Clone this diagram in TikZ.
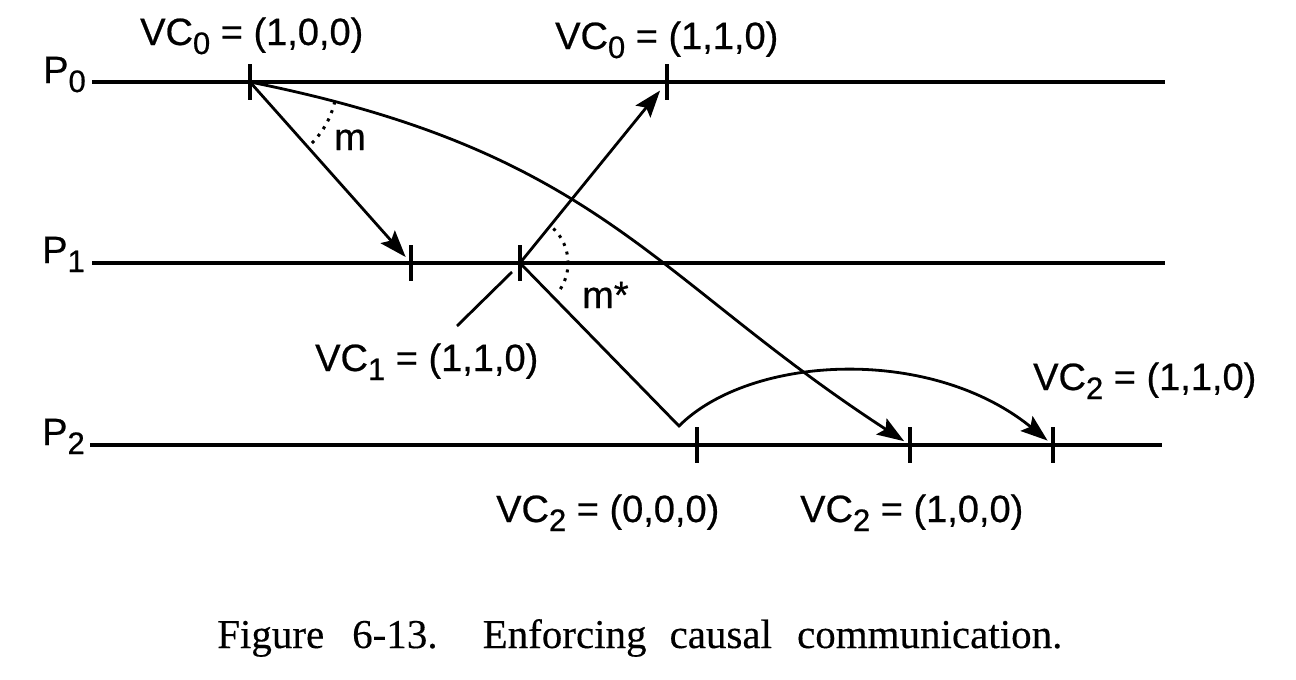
\documentclass[tikz,border=0pt]{standalone}
\usepackage{fontspec}
\setmainfont{Liberation Sans}
\newfontfamily\lblfont[FakeBold=0.6]{Liberation Sans}
\newfontfamily\capfont[FakeBold=0.3]{Liberation Serif}
\usetikzlibrary{arrows.meta}
\newcommand\vsub[1]{\raisebox{-9pt}{\fontsize{31}{31}\selectfont #1}}
\begin{document}
\begin{tikzpicture}[x=1pt,y=-1pt,
  timeline/.style={line width=3.3pt},
  tickmark/.style={line width=4.5pt},
  msg/.style={line width=2.8pt, -{Stealth[length=27pt,width=19pt,inset=5pt]}},
  plainline/.style={line width=2.8pt},
  anglemark/.style={line width=3pt, dash pattern=on 3pt off 6pt},
  lbl/.style={font=\lblfont\fontsize{38}{44}\selectfont, inner sep=0pt, anchor=base west},
  ]
\useasboundingbox (0,0) rectangle (1296,680);

% process labels
\node[lbl] (P0) at (43,83) {P\vsub{0}};
\node[lbl] (P1) at (42,263) {P\vsub{1}};
\node[lbl] (P2) at (42,445) {P\vsub{2}};

% time lines
\coordinate (l0s) at (92,82);  \coordinate (l0e) at (1165,82);
\coordinate (l1s) at (92,263); \coordinate (l1e) at (1165,263);
\coordinate (l2s) at (90,445); \coordinate (l2e) at (1162,445);
\draw[timeline] (l0s) -- (l0e);
\draw[timeline] (l1s) -- (l1e);
\draw[timeline] (l2s) -- (l2e);

% events
\coordinate (a) at (250,82);
\coordinate (b) at (667,82);
\coordinate (c) at (411,263);
\coordinate (d) at (520,263);
\coordinate (e) at (697,445);
\coordinate (f) at (910,445);
\coordinate (g) at (1053,445);
\coordinate (h) at (679,426);
\foreach \ev in {a,b,c,d,e,f,g}
  \draw[tickmark] ([yshift=18pt]\ev) -- ([yshift=-18pt]\ev);

% messages
\draw[msg, shorten >=8pt] (a) -- (c);
\draw[msg, shorten >=11pt] (d) -- (b);
\draw[msg, shorten >=7pt] (a) .. controls (600,152) and (650,276) .. (f);
\draw[msg, shorten >=7pt] (d) -- (h) .. controls (750,355) and (930,345) .. (g);

% leader line for VC1
\coordinate (k1) at (457,326);
\coordinate (k2) at (512,272);
\draw[plainline] (k1) -- (k2);

% angle marks
\draw[anglemark] plot[domain=13:48, samples=25] ({250+87*cos(\x)},{82+87*sin(\x)});
\draw[anglemark] plot[domain=-46:38, samples=30] ({520+48*cos(\x)},{263+48*sin(\x)});

% labels
\node[lbl] (vc0a) at (140,45) {VC\vsub{0} = (1,0,0)};
\node[lbl] (vc0b) at (555,49) {VC\vsub{0} = (1,1,0)};
\node[lbl] (vc1)  at (315,371) {VC\vsub{1} = (1,1,0)};
\node[lbl] (vc2c) at (1033,390) {VC\vsub{2} = (1,1,0)};
\node[lbl] (vc2a) at (496,522) {VC\vsub{2} = (0,0,0)};
\node[lbl] (vc2b) at (800,522) {VC\vsub{2} = (1,0,0)};
\node[lbl] (mlab) at (334,150) {m};
\node[lbl] (mslab) at (582,308) {m*};

% caption
\node[anchor=base west, inner sep=0pt, font=\capfont\fontsize{41}{48}\selectfont] (cap) at (217,648)
  {Figure\hspace{28pt}6-13.\hspace{45pt}Enforcing\hspace{23pt}causal\hspace{25pt}communication.};
\end{tikzpicture}
\end{document}
